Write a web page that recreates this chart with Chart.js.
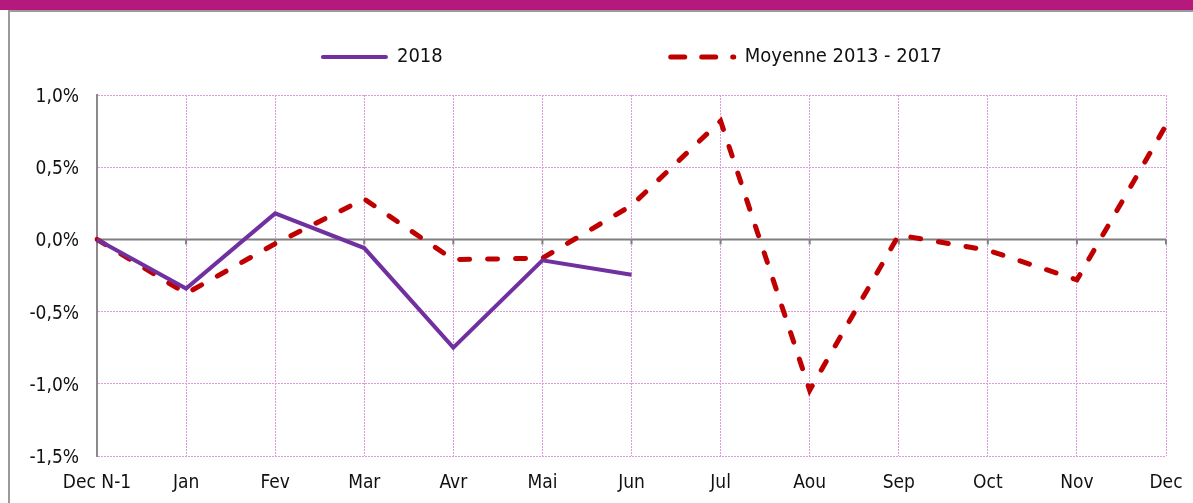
<!DOCTYPE html>
<html>
<head>
<meta charset="utf-8">
<script src="https://cdn.jsdelivr.net/npm/chart.js@4.4.0/dist/chart.umd.min.js"></script>
<style>
  html, body { margin: 0; padding: 0; background: #fff; }
  #band { position: absolute; left: 0; top: 0; width: 1193px; height: 10px; background: #b5197d; }
  #frame { position: absolute; left: 8px; top: 10px; width: 1185px; height: 493px; box-sizing: border-box;
           border-left: 2px solid #9a9a9a; border-top: 2px solid #9a9a9a; }
  #chart { position: absolute; left: 0; top: 0; }
</style>
</head>
<body>
<div id="band"></div>
<div id="frame"></div>
<canvas id="chart" width="1193" height="503"></canvas>
<script>
const months = ['Dec N-1', 'Jan', 'Fev', 'Mar', 'Avr', 'Mai', 'Jun', 'Jul', 'Aou', 'Sep', 'Oct', 'Nov', 'Dec'];
const values2018 = [0, -0.34, 0.18, -0.06, -0.75, -0.145, -0.245, null, null, null, null, null, null];
const valuesAvg = [0, -0.375, -0.03, 0.28, -0.14, -0.13, 0.235, 0.82, -1.045, 0.03, -0.075, -0.28, 0.79];
const yMin = -1.5;
const yMax = 1.0;
const yStep = 0.5;

const FONT = "'DejaVu Sans Condensed', 'Liberation Sans Narrow', 'DejaVu Sans', sans-serif";
const TEXT = '#111';
const GRID = '#de9ade';

const pct = v => v.toFixed(1).replace('.', ',') + '%';

// axe horizontal à 0 avec ses graduations
const zeroAxis = {
  id: 'zeroAxis',
  beforeDatasetsDraw(chart) {
    const { ctx, chartArea, scales: { x, y } } = chart;
    const y0 = y.getPixelForValue(0);
    ctx.save();
    ctx.strokeStyle = '#7f7f7f';
    ctx.lineWidth = 2;
    ctx.beginPath();
    ctx.moveTo(chartArea.left, y0);
    ctx.lineTo(chartArea.right, y0);
    months.forEach((m, i) => {
      const px = x.getPixelForValue(i);
      ctx.moveTo(px, y0);
      ctx.lineTo(px, y0 + 5);
    });
    ctx.stroke();
    ctx.restore();
  }
};

// légende façon Excel, longues lignes et grand écart
const lineLegend = {
  id: 'lineLegend',
  afterDraw(chart) {
    const { ctx, chartArea } = chart;
    const sample = 66, gapText = 10, gapItems = 226, yPos = 57;
    ctx.save();
    ctx.font = '20px ' + FONT;
    const items = chart.data.datasets.map(ds => ({ ds, w: sample + gapText + ctx.measureText(ds.label).width }));
    const total = items.reduce((s, it) => s + it.w, 0) + gapItems * (items.length - 1);
    let x = (chartArea.left + chartArea.right) / 2 - total / 2;
    items.forEach(({ ds, w }) => {
      ctx.strokeStyle = ds.borderColor;
      ctx.lineWidth = ds.borderWidth;
      ctx.lineCap = 'round';
      ctx.setLineDash(ds.borderDash ? [14, 17] : []);
      ctx.beginPath();
      ctx.moveTo(x + 2, yPos);
      ctx.lineTo(x + sample - 1, yPos);
      ctx.stroke();
      ctx.setLineDash([]);
      ctx.fillStyle = TEXT;
      ctx.textBaseline = 'middle';
      ctx.fillText(ds.label, x + sample + gapText, yPos);
      x += w + gapItems;
    });
    ctx.restore();
  }
};

new Chart(document.getElementById('chart'), {
  type: 'line',
  data: {
    labels: months,
    datasets: [
      {
        label: '2018',
        data: values2018,
        borderColor: '#7030a0',
        borderWidth: 4,
        pointRadius: 0,
        tension: 0,
        spanGaps: false
      },
      {
        label: 'Moyenne 2013 - 2017',
        data: valuesAvg,
        borderColor: '#c00000',
        borderWidth: 5,
        borderDash: [10, 18],
        borderCapStyle: 'round',
        pointRadius: 0,
        tension: 0
      }
    ]
  },
  options: {
    responsive: false,
    animation: false,
    layout: { padding: { top: 95, right: 27, left: 0, bottom: 0 } },
    plugins: {
      legend: { display: false },
      tooltip: { enabled: false }
    },
    scales: {
      x: {
        afterFit: s => { s.height = 47; s.paddingLeft = 0; s.paddingRight = 0; },
        grid: { color: GRID, lineWidth: 1, drawTicks: false },
        border: { display: false, dash: [2, 1] },
        ticks: { color: TEXT, font: { family: FONT, size: 19 }, padding: 16, maxRotation: 0, autoSkip: false }
      },
      y: {
        min: yMin,
        max: yMax,
        afterFit: s => { s.width = 97; },
        grid: { color: GRID, lineWidth: 1, drawTicks: false },
        border: { display: true, color: '#8a8a8a', width: 2, dash: [2, 1] },
        ticks: { stepSize: yStep, color: TEXT, font: { family: FONT, size: 19 }, padding: 18, labelOffset: 2, callback: v => pct(v) }
      }
    }
  },
  plugins: [zeroAxis, lineLegend]
});
</script>
</body>
</html>
